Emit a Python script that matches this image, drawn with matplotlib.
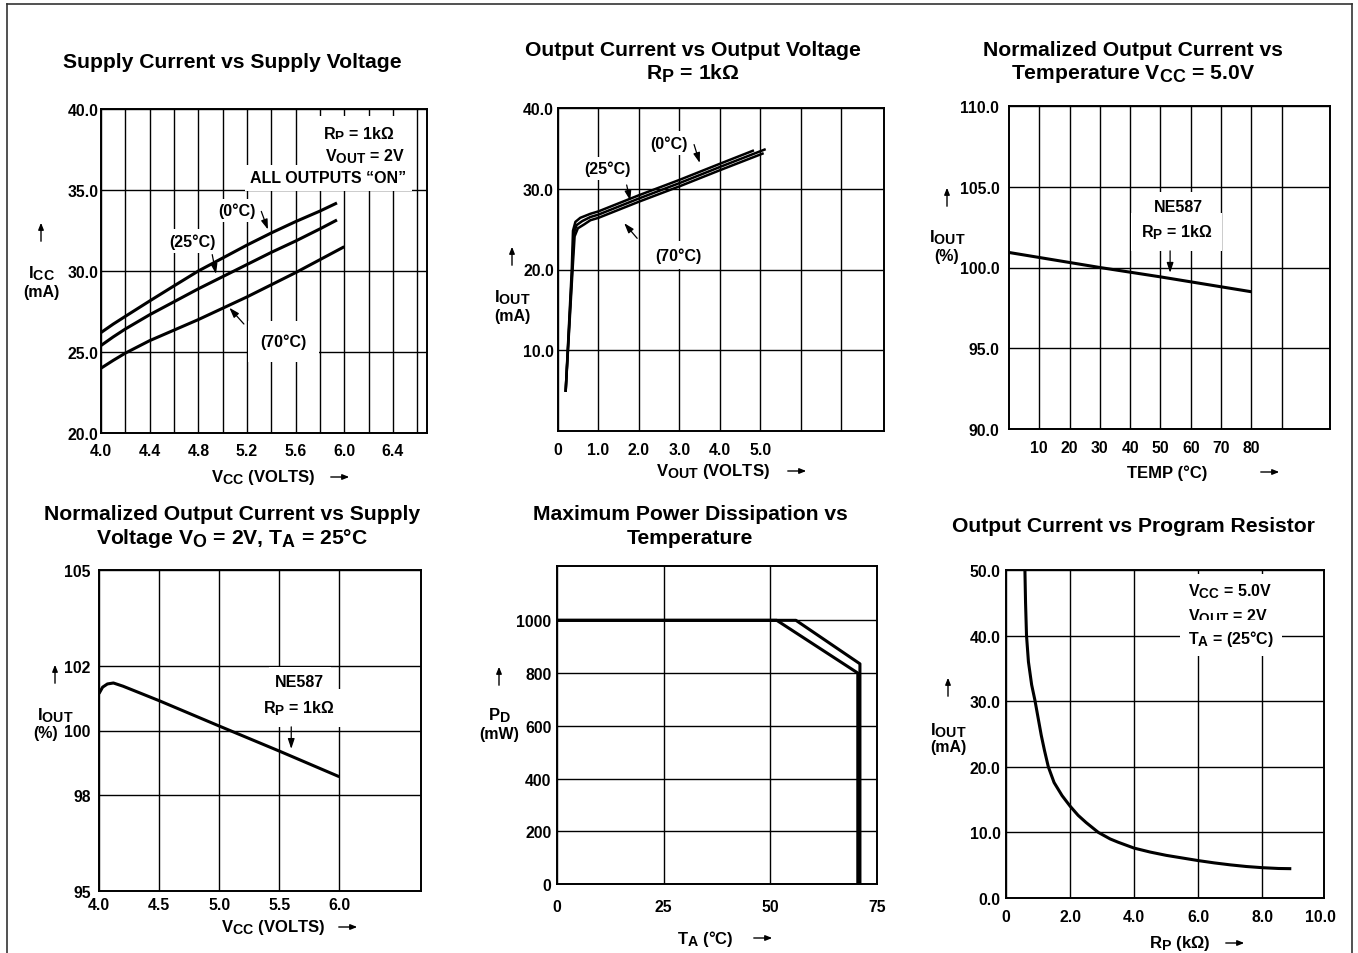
import numpy as np
import matplotlib
matplotlib.use('Agg')
import matplotlib.pyplot as plt
import matplotlib._mathtext as mt
from matplotlib.lines import Line2D

plt.rcParams['font.family'] = ['Liberation Sans', 'DejaVu Sans']
plt.rcParams['font.weight'] = 'bold'
plt.rcParams['mathtext.fontset'] = 'custom'
plt.rcParams['mathtext.rm'] = 'Liberation Sans:bold'
plt.rcParams['mathtext.it'] = 'Liberation Sans:bold'
plt.rcParams['mathtext.bf'] = 'Liberation Sans:bold'
# datasheet subscripts are nearly full size
mt.SHRINK_FACTOR = 0.85

# --- data ---
# supply current vs supply voltage
vcc_0 = [4.0, 4.1, 4.2, 4.4, 4.6, 4.8, 5.0, 5.2, 5.4, 5.6, 5.8, 5.94]
icc_0 = [26.2, 26.72, 27.2, 28.15, 29.08, 30.0, 30.8, 31.6, 32.35, 33.05, 33.7, 34.2]
vcc_25 = [4.0, 4.1, 4.2, 4.4, 4.6, 4.8, 5.0, 5.2, 5.4, 5.6, 5.8, 5.94]
icc_25 = [25.4, 25.93, 26.42, 27.3, 28.1, 28.9, 29.65, 30.4, 31.15, 31.85, 32.6, 33.15]
vcc_70 = [4.0, 4.1, 4.2, 4.4, 4.6, 4.8, 5.0, 5.2, 5.4, 5.6, 5.8, 6.0]
icc_70 = [24.0, 24.48, 24.93, 25.7, 26.35, 27.0, 27.7, 28.4, 29.15, 29.9, 30.7, 31.5]

# output current vs output voltage
vout_0 = [0.19, 0.34, 0.37, 0.43, 0.55, 0.8, 1.0, 2.0, 3.0, 4.0, 4.81]
iout_0 = [5.0, 20.0, 24.8, 25.9, 26.4, 26.9, 27.2, 29.2, 31.1, 33.1, 34.7]
vout_25 = [0.19, 0.35, 0.39, 0.46, 0.6, 0.8, 1.0, 2.0, 3.0, 4.0, 5.1]
iout_25 = [5.0, 20.0, 24.5, 25.5, 26.0, 26.5, 26.8, 28.8, 30.7, 32.7, 34.85]
vout_70 = [0.19, 0.36, 0.41, 0.49, 0.65, 0.8, 1.0, 2.0, 3.0, 4.0, 5.05]
iout_70 = [5.0, 20.0, 24.1, 25.1, 25.6, 26.1, 26.4, 28.4, 30.3, 32.3, 34.35]

# normalized output current vs temperature
temp = [0, 30, 50, 80]
iout_norm_t = [100.93, 100.0, 99.42, 98.5]

# normalized output current vs supply voltage
vcc_n = [4.0, 4.03, 4.07, 4.12, 4.2, 4.5, 5.0, 5.5, 6.0]
iout_norm_v = [101.15, 101.35, 101.45, 101.48, 101.38, 100.93, 100.14, 99.36, 98.56]

# max power dissipation vs temperature
ta_a = [0, 56, 71, 71]
pd_a = [1000, 1000, 835, 0]
ta_b = [0, 51.5, 70.5, 70.5]
pd_b = [1000, 1000, 800, 0]

# output current vs program resistor
rp = [0.59, 0.61, 0.64, 0.7, 0.8, 0.9, 1.0, 1.1, 1.2, 1.32, 1.5, 1.75, 2.0, 2.25, 2.5,
      2.88, 3.25, 3.5, 4.0, 4.5, 5.0, 5.5, 6.0, 6.5, 7.0, 7.5, 8.0, 8.5, 8.9]
iout_rp = [50, 45, 40, 36, 32.5, 30.2, 27.5, 24.8, 22.5, 20.0, 17.6, 15.6, 14.0, 12.6, 11.5,
           10.0, 9.0, 8.5, 7.6, 7.0, 6.5, 6.1, 5.7, 5.35, 5.05, 4.8, 4.62, 4.5, 4.47]

W, H = 1358, 954
fig = plt.figure(figsize=(W / 100, H / 100), dpi=100)

TICK_FS = 11.3
NOTE_FS = 11.5
LAB_FS = 12
TITLE_FS = 15.2


def rect(l, t, r, b):
    return [l / W, 1 - b / H, (r - l) / W, (b - t) / H]


def fp(x, y):
    return (x / W, 1 - y / H)


def style(ax, xlim, ylim, xt, xl, yt, yl, xminor=(), yminor=(), xpad=8, ypad=3):
    ax.set_xlim(xlim)
    ax.set_ylim(ylim)
    ax.set_xticks(xt, labels=xl)
    ax.set_yticks(yt, labels=yl)
    ax.set_xticks(list(xminor), minor=True)
    ax.set_yticks(list(yminor), minor=True)
    ax.grid(which='both', color='black', lw=1.0)
    ax.set_axisbelow(True)
    ax.tick_params(which='both', length=0, labelsize=TICK_FS)
    ax.tick_params(axis='x', pad=xpad)
    ax.tick_params(axis='y', pad=ypad)
    for s in ax.spines.values():
        s.set_linewidth(1.4)


def farrow(p0, p1):
    fig.add_artist(matplotlib.patches.FancyArrowPatch(
        fp(*p0), fp(*p1), transform=fig.transFigure,
        arrowstyle='-|>,head_length=4,head_width=1.6', lw=1.0, color='black'))


def ylab(x, y_arrow, y_name, y_unit, name, unit, xu=None):
    farrow((x, y_arrow + 12), (x, y_arrow - 12))
    fig.text(*fp(x, y_name), name, ha='center', va='center', fontsize=LAB_FS)
    fig.text(*fp(x if xu is None else xu, y_unit), unit, ha='center', va='center',
             fontsize=LAB_FS - 0.5)


def xlab(x, y, text, xa):
    fig.text(*fp(x, y), text, ha='center', va='center', fontsize=LAB_FS)
    farrow((xa - 12, y), (xa + 12, y))


def title(x, y, text):
    fig.text(*fp(x, y), text, ha='center', va='center', fontsize=TITLE_FS)


def note(ax, x, y, text, tip=None, tail=None, pad=0.3, ha='center'):
    ax.text(x, y, text, ha=ha, va='center', fontsize=NOTE_FS, zorder=4,
            bbox=dict(boxstyle='square,pad=%s' % pad, fc='white', ec='none'))
    if tip is not None:
        ax.annotate('', xy=tip, xytext=tail, zorder=5,
                    arrowprops=dict(arrowstyle='-|>,head_length=0.6,head_width=0.2',
                                    lw=0.9, color='black'))


box = dict(color='black', lw=2.2, solid_capstyle='butt', zorder=3)

# ---- panel 1 ----
ax1 = fig.add_axes(rect(101, 110, 427, 434))
ax1.plot(vcc_0, icc_0, **box)
ax1.plot(vcc_25, icc_25, **box)
ax1.plot(vcc_70, icc_70, **box)
style(ax1, (4.0, 6.68), (20, 40),
      [4.0, 4.4, 4.8, 5.2, 5.6, 6.0, 6.4], ['4.0', '4.4', '4.8', '5.2', '5.6', '6.0', '6.4'],
      [20, 25, 30, 35, 40], ['20.0', '25.0', '30.0', '35.0', '40.0'],
      xminor=[4.2, 4.6, 5.0, 5.4, 5.8, 6.2, 6.6], xpad=7, ypad=2)
note(ax1, 6.12, 38.5, r'$\mathrm{R_P}$ = 1kΩ', pad=0.5)
note(ax1, 6.17, 37.1, r'$\mathrm{V_{OUT}}$ = 2V', pad=0.45)
note(ax1, 5.87, 35.75, 'ALL OUTPUTS “ON”', pad=0.35)
note(ax1, 5.12, 33.73, '(0°C)', tip=(5.38, 32.4), tail=(5.31, 33.84), pad=0.25)
note(ax1, 4.75, 31.86, '(25°C)', tip=(4.95, 29.65), tail=(4.91, 31.18), pad=0.25)
note(ax1, 5.50, 25.67, '(70°C)', tip=(5.04, 27.86), tail=(5.19, 26.6), pad=0.8)
title(232, 63, 'Supply Current vs Supply Voltage')
ylab(41, 233, 274, 292, r'$\mathrm{I_{CC}}$', '(mA)')
xlab(263, 478, r'$\mathrm{V_{CC}}$ (VOLTS)', 340)

# ---- panel 2 ----
ax2 = fig.add_axes(rect(558, 109, 884, 432))
lw2 = dict(color='black', lw=1.8, zorder=3)
ax2.plot(vout_0, iout_0, **lw2)
ax2.plot(vout_25, iout_25, **lw2)
ax2.plot(vout_70, iout_70, **lw2)
style(ax2, (0, 8.05), (0, 40),
      [0, 1, 2, 3, 4, 5], ['0', '1.0', '2.0', '3.0', '4.0', '5.0'],
      [10, 20, 30, 40], ['10.0', '20.0', '30.0', '40.0'],
      xminor=[6, 7], xpad=8, ypad=3)
note(ax2, 2.73, 35.66, '(0°C)', tip=(3.52, 32.87), tail=(3.34, 35.8), pad=0.25)
note(ax2, 1.21, 32.5, '(25°C)', tip=(1.8, 28.2), tail=(1.68, 30.8), pad=0.25)
note(ax2, 2.97, 21.8, '(70°C)', tip=(1.59, 26.0), tail=(2.0, 23.6), pad=0.4)
title(693, 50, 'Output Current vs Output Voltage')
title(693, 74, r'$\mathrm{R_P}$ = 1kΩ')
ylab(512, 257, 298, 316, r'$\mathrm{I_{OUT}}$', '(mA)')
xlab(713, 472, r'$\mathrm{V_{OUT}}$ (VOLTS)', 797)

# ---- panel 3 ----
ax3 = fig.add_axes(rect(1009, 107, 1330, 430))
ax3.plot(temp, iout_norm_t, **box)
style(ax3, (0, 106), (90, 110),
      [10, 20, 30, 40, 50, 60, 70, 80], ['10', '20', '30', '40', '50', '60', '70', '80'],
      [90, 95, 100, 105, 110], ['90.0', '95.0', '100.0', '105.0', '110.0'],
      xminor=[90], xpad=8, ypad=7)
note(ax3, 56, 103.8, 'NE587', pad=0.4)
note(ax3, 55.4, 102.2, r'$\mathrm{R_P}$ = 1kΩ', tip=(53.2, 99.5), tail=(53.2, 101.2), pad=0.6)
title(1133, 50, 'Normalized Output Current vs')
title(1133, 74, r'Temperature $\mathrm{V_{CC}}$ = 5.0V')
ylab(947, 198, 238, 257, r'$\mathrm{I_{OUT}}$', '(%)')
xlab(1167, 473, 'TEMP (°C)', 1270)

# ---- panel 4 ----
ax4 = fig.add_axes(rect(99, 571, 421, 892))
ax4.plot(vcc_n, iout_norm_v, **box)
style(ax4, (4.0, 6.68), (95, 105),
      [4.0, 4.5, 5.0, 5.5, 6.0], ['4.0', '4.5', '5.0', '5.5', '6.0'],
      [95, 98, 100, 102, 105], ['95', '98', '100', '102', '105'],
      xpad=4, ypad=6)
note(ax4, 5.67, 101.53, 'NE587', pad=0.4)
note(ax4, 5.66, 100.7, r'$\mathrm{R_P}$ = 1kΩ', tip=(5.6, 99.34), tail=(5.6, 100.2), pad=0.6)
title(232, 515, 'Normalized Output Current vs Supply')
title(232, 539, r'Voltage $\mathrm{V_O}$ = 2V, $\mathrm{T_A}$ = 25°C')
ylab(55, 675, 716, 734, r'$\mathrm{I_{OUT}}$', '(%)', xu=46)

# ---- panel 5 ----
ax5 = fig.add_axes(rect(557, 567, 877, 885))
ax5.plot(ta_a, pd_a, **box)
ax5.plot(ta_b, pd_b, **box)
style(ax5, (0, 75), (0, 1206),
      [0, 25, 50, 75], ['0', '25', '50', '75'],
      [0, 200, 400, 600, 800, 1000], ['0', '200', '400', '600', '800', '1000'],
      xpad=11, ypad=4)
title(690, 515, 'Maximum Power Dissipation vs')
title(690, 539, 'Temperature')
ylab(499, 677, 716, 735, r'$\mathrm{P_D}$', '(mW)')
xlab(705, 939, r'$\mathrm{T_A}$ (°C)', 763)
xlab(273, 928, r'$\mathrm{V_{CC}}$ (VOLTS)', 348)

# ---- panel 6 ----
ax6 = fig.add_axes(rect(1006, 571, 1324, 899))
ax6.plot(rp, iout_rp, **box)
style(ax6, (0, 9.92), (0, 50),
      [0, 2, 4, 6, 8], ['0', '2.0', '4.0', '6.0', '8.0'],
      [0, 10, 20, 30, 40, 50], ['0.0', '10.0', '20.0', '30.0', '40.0', '50.0'],
      xpad=8, ypad=4)
fig.text(*fp(1320, 918), '10.0', ha='center', va='center', fontsize=TICK_FS)
note(ax6, 5.69, 46.8, r'$\mathrm{V_{CC}}$ = 5.0V', ha='left', pad=0.5)
note(ax6, 5.69, 43.0, r'$\mathrm{V_{OUT}}$ = 2V', ha='left', pad=0.5)
note(ax6, 5.69, 39.6, r'$\mathrm{T_A}$ = (25°C)', ha='left', pad=0.5)
title(1133, 527, 'Output Current vs Program Resistor')
ylab(948, 688, 731, 748, r'$\mathrm{I_{OUT}}$', '(mA)')
xlab(1180, 944, r'$\mathrm{R_P}$ (kΩ)', 1235)

# page frame
fig.add_artist(Line2D([7 / W, 1352 / W], [1 - 5 / H, 1 - 5 / H], color='#333333', lw=1.2))
fig.add_artist(Line2D([7 / W, 7 / W], [1 - 5 / H, 0], color='#333333', lw=1.2))
fig.add_artist(Line2D([1352 / W, 1352 / W], [1 - 5 / H, 0], color='#333333', lw=1.2))

fig.savefig('out.png', dpi=100)
